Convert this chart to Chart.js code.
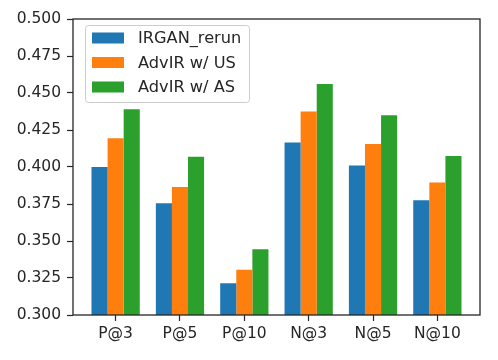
<!DOCTYPE html>
<html>
<head>
<meta charset="utf-8">
<script src="https://cdn.jsdelivr.net/npm/chart.js@4"></script>
<style>
  html, body { margin: 0; padding: 0; background: #fff; }
  #wrap { width: 498px; height: 360px; }
</style>
</head>
<body>
<div id="wrap"><canvas id="chart" width="498" height="360"></canvas></div>
<script>
const categories = ["P@3", "P@5", "P@10", "N@3", "N@5", "N@10"];
const seriesNames = ["IRGAN_rerun", "AdvIR w/ US", "AdvIR w/ AS"];
const irganRerun = [0.400, 0.3755, 0.3215, 0.4165, 0.401, 0.3775];
const advirUS = [0.4195, 0.3865, 0.3305, 0.4375, 0.4155, 0.3895];
const advirAS = [0.439, 0.407, 0.3445, 0.456, 0.435, 0.4075];
const colors = ["#1f77b4", "#ff7f0e", "#2ca02c"];

const FONT = "DejaVu Sans";
const INK = "#262626";

const toPoints = vals => vals.map((v, i) => ({ x: i, y: v }));

// matplotlib-style box around the axes + legend inside top-left
const framePlugin = {
  id: "frame",
  afterDatasetsDraw(chart) {
    const { ctx, chartArea: a } = chart;
    ctx.save();
    ctx.strokeStyle = INK;
    ctx.lineWidth = 1.3;
    ctx.strokeRect(a.left, a.top, a.right - a.left, a.bottom - a.top);

    // legend
    const bx = a.left + 12, by = a.top + 6, bw = 164, bh = 77;
    ctx.beginPath();
    ctx.roundRect(bx + 0.5, by + 0.5, bw, bh, 3);
    ctx.fillStyle = "rgba(255,255,255,0.8)";
    ctx.fill();
    ctx.strokeStyle = "#cccccc";
    ctx.lineWidth = 1;
    ctx.stroke();
    ctx.font = "16.2px '" + FONT + "'";
    ctx.textBaseline = "middle";
    chart.data.datasets.forEach((ds, i) => {
      const cy = by + 13 + i * 24.5;
      ctx.fillStyle = ds.backgroundColor;
      ctx.fillRect(bx + 7, cy - 5.5, 32, 11);
      ctx.fillStyle = INK;
      ctx.fillText(ds.label, bx + 53, cy + 1);
    });
    ctx.restore();
  }
};

new Chart(document.getElementById("chart"), {
  type: "bar",
  data: {
    datasets: [irganRerun, advirUS, advirAS].map((vals, i) => ({
      label: seriesNames[i],
      data: toPoints(vals),
      backgroundColor: colors[i],
      categoryPercentage: 0.75,
      barPercentage: 1.0
    }))
  },
  options: {
    responsive: false,
    animation: false,
    layout: { padding: { top: 19, right: 18, left: 0, bottom: 0 } },
    plugins: { legend: { display: false }, tooltip: { enabled: false } },
    scales: {
      x: {
        type: "linear",
        offset: false,
        min: -0.6625,
        max: 5.6625,
        afterBuildTicks: s => { s.ticks = categories.map((c, i) => ({ value: i })); },
        afterFit: s => { s.height = 45; },
        ticks: {
          callback: v => categories[v],
          font: { family: FONT, size: 15.5 },
          color: INK,
          padding: 4,
          maxRotation: 0,
          autoSkip: false
        },
        grid: { display: true, offset: false, drawOnChartArea: false, drawTicks: true, tickLength: 6, color: INK, tickWidth: 1.2 },
        border: { display: false }
      },
      y: {
        min: 0.3,
        max: 0.5,
        afterFit: s => { s.width = 73; },
        ticks: {
          stepSize: 0.025,
          callback: v => v.toFixed(3),
          font: { family: FONT, size: 15.5 },
          color: INK,
          padding: 6
        },
        grid: { display: true, drawOnChartArea: false, drawTicks: true, tickLength: 6, color: INK, tickWidth: 1.2 },
        border: { display: false }
      }
    }
  },
  plugins: [framePlugin]
});
</script>
</body>
</html>
